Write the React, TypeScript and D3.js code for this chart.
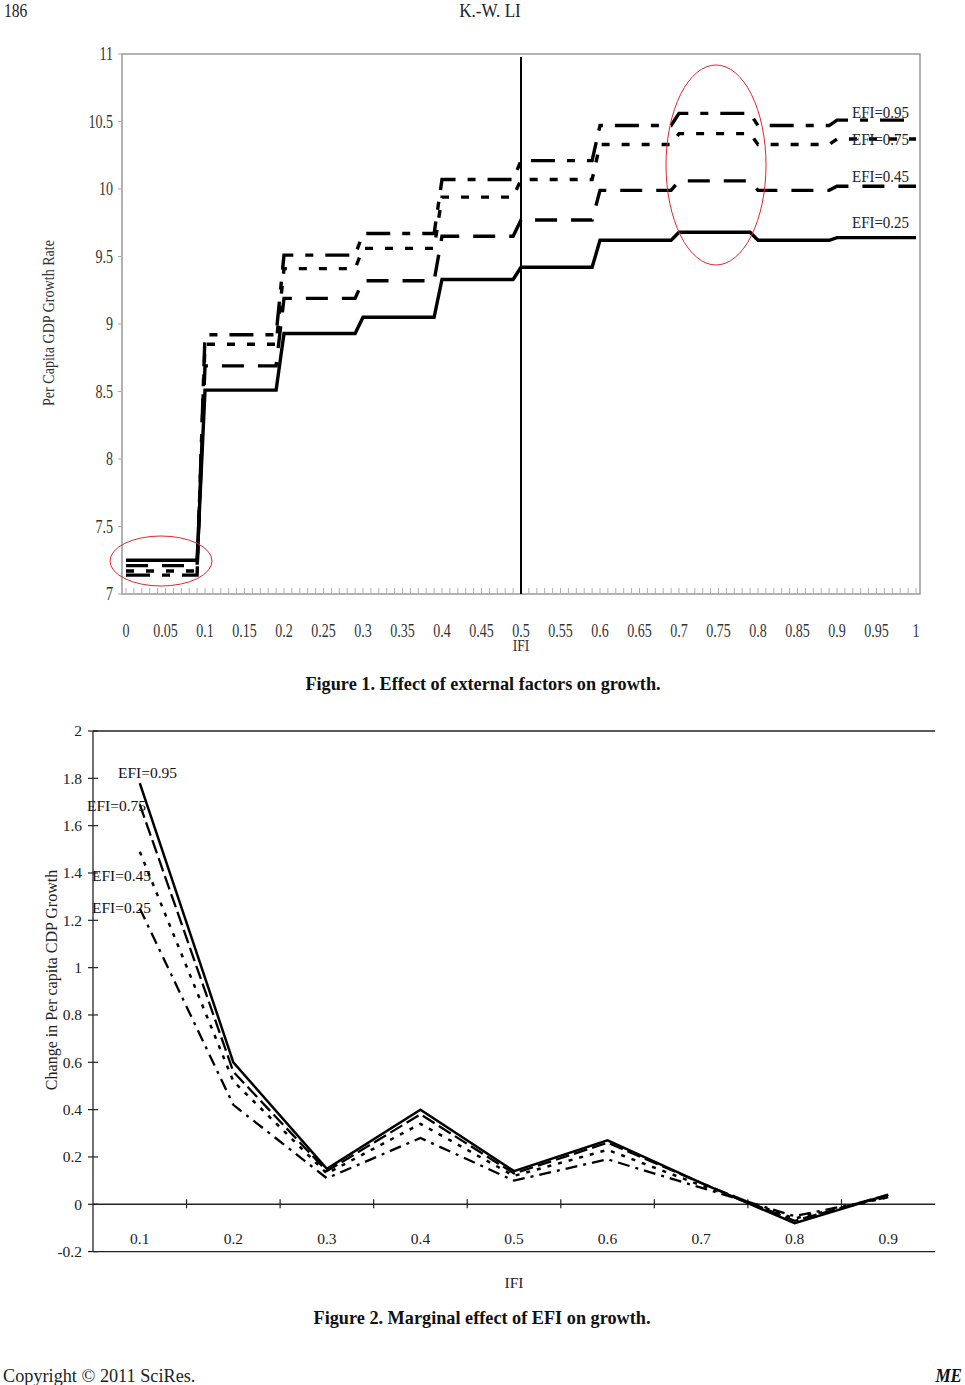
import React from "react";
import * as d3 from "d3";

// ---------- Figure 1 data (step breakpoints) ----------
const ifi1 = [0, 0.09, 0.1, 0.19, 0.2, 0.29, 0.3, 0.39, 0.4, 0.49, 0.5, 0.59, 0.6, 0.69, 0.7, 0.79, 0.8, 0.89, 0.9, 1.0];
const efi25 = [7.25, 7.25, 8.51, 8.51, 8.93, 8.93, 9.05, 9.05, 9.33, 9.33, 9.42, 9.42, 9.62, 9.62, 9.68, 9.68, 9.62, 9.62, 9.64, 9.64];
const efi45 = [7.21, 7.21, 8.69, 8.69, 9.19, 9.19, 9.32, 9.32, 9.65, 9.65, 9.77, 9.77, 9.99, 9.99, 10.06, 10.06, 9.99, 9.99, 10.02, 10.02];
const efi75 = [7.17, 7.17, 8.85, 8.85, 9.41, 9.41, 9.56, 9.56, 9.94, 9.94, 10.07, 10.07, 10.33, 10.33, 10.41, 10.41, 10.33, 10.33, 10.37, 10.37];
const efi95 = [7.14, 7.14, 8.92, 8.92, 9.51, 9.51, 9.67, 9.67, 10.07, 10.07, 10.21, 10.21, 10.47, 10.47, 10.56, 10.56, 10.47, 10.47, 10.51, 10.51];
const fig1YTicks = [7, 7.5, 8, 8.5, 9, 9.5, 10, 10.5, 11];
const fig1XTicks = [0, 0.05, 0.1, 0.15, 0.2, 0.25, 0.3, 0.35, 0.4, 0.45, 0.5, 0.55, 0.6, 0.65, 0.7, 0.75, 0.8, 0.85, 0.9, 0.95, 1];
const fig1Labels = ["EFI=0.95", "EFI=0.75", "EFI=0.45", "EFI=0.25"];

// ---------- Figure 2 data ----------
const ifi2 = ["0.1", "0.2", "0.3", "0.4", "0.5", "0.6", "0.7", "0.8", "0.9"];
const m95 = [1.78, 0.6, 0.15, 0.4, 0.14, 0.27, 0.09, -0.08, 0.04];
const m75 = [1.69, 0.56, 0.14, 0.38, 0.13, 0.26, 0.09, -0.07, 0.04];
const m45 = [1.49, 0.52, 0.13, 0.34, 0.12, 0.23, 0.08, -0.06, 0.03];
const m25 = [1.25, 0.42, 0.11, 0.28, 0.1, 0.19, 0.07, -0.05, 0.03];
const fig2YTicks = [-0.2, 0, 0.2, 0.4, 0.6, 0.8, 1, 1.2, 1.4, 1.6, 1.8, 2];
const fig2Labels = ["EFI=0.95", "EFI=0.75", "EFI=0.45", "EFI=0.25"];

const SERIF = "'Liberation Serif', 'DejaVu Serif', serif";

type CTProps = {
  x: number;
  y: number;
  size: number;
  sx?: number;
  anchor?: "start" | "middle" | "end";
  weight?: string;
  italic?: boolean;
  fill?: string;
  rotate?: number;
  children: React.ReactNode;
};

// Condensed serif text (the source uses a narrow Times face)
function CText({ x, y, size, sx = 1, anchor = "start", weight, italic, fill = "#222", rotate = 0, children }: CTProps) {
  return (
    <text
      transform={`translate(${x},${y}) rotate(${rotate}) scale(${sx},1)`}
      textAnchor={anchor}
      fontFamily={SERIF}
      fontSize={size}
      fontWeight={weight}
      fontStyle={italic ? "italic" : undefined}
      fill={fill}
    >
      {children}
    </text>
  );
}

function Figure1() {
  const x = d3.scaleLinear().domain([0, 1]).range([126, 916]);
  const y = d3.scaleLinear().domain([7, 11]).range([594, 54]);
  const line = d3
    .line<number>()
    .x((_, i) => x(ifi1[i]))
    .y((v) => y(v));
  const series = [
    { v: efi25, dash: "none" },
    { v: efi45, dash: "22,14" },
    { v: efi75, dash: "8,12" },
    { v: efi95, dash: "24,12,8,12" },
  ];
  const minor = d3.range(0, 101).map((k) => k / 100);
  const labelY = [112, 139, 176, 222];
  const fmt = (v: number) => String(v);
  return (
    <g>
      <rect x={122} y={54} width={798} height={540} fill="none" stroke="#8a8a8a" strokeWidth={1.3} />
      {fig1YTicks.map((t) => (
        <g key={"y" + t}>
          <line x1={118} x2={122} y1={y(t)} y2={y(t)} stroke="#aaa" strokeWidth={1} />
          <CText x={113} y={y(t) + 6} size={19} sx={0.74} anchor="end" fill="#333">
            {fmt(t)}
          </CText>
        </g>
      ))}
      {minor.map((m) => (
        <line key={"m" + m} x1={x(m)} x2={x(m)} y1={588} y2={594} stroke="#b0b0b0" strokeWidth={1} />
      ))}
      {fig1XTicks.map((t) => (
        <CText key={"x" + t} x={x(t)} y={637} size={19} sx={0.74} anchor="middle" fill="#333">
          {fmt(t)}
        </CText>
      ))}
      <CText x={521} y={651} size={16} sx={0.85} anchor="middle" fill="#333">
        IFI
      </CText>
      <CText x={54} y={323} size={16} sx={0.88} anchor="middle" rotate={-90} fill="#333">
        Per Capita GDP Growth Rate
      </CText>
      <line x1={x(0.5)} x2={x(0.5)} y1={57} y2={594} stroke="#000" strokeWidth={2} />
      {series.map((s, i) => (
        <path
          key={"s" + i}
          d={line(s.v) || ""}
          fill="none"
          stroke="#000"
          strokeWidth={3.4}
          strokeDasharray={s.dash}
        />
      ))}
      {fig1Labels.map((l, i) => (
        <CText key={l} x={852} y={labelY[i] + 6} size={17} sx={0.88} fill="#222">
          {l}
        </CText>
      ))}
      <ellipse cx={716} cy={165} rx={50} ry={100} fill="none" stroke="#e0262c" strokeWidth={1} />
      <ellipse cx={161} cy={561} rx={51} ry={25} fill="none" stroke="#e0262c" strokeWidth={1} />
    </g>
  );
}

function Figure2() {
  const x = d3.scalePoint<string>().domain(ifi2).range([93, 935]).padding(0.5);
  const step = x.step();
  const y = d3.scaleLinear().domain([-0.2, 2]).range([1251.6, 731]);
  const line = d3
    .line<number>()
    .x((_, i) => x(ifi2[i]) as number)
    .y((v) => y(v));
  const series = [
    { v: m95, dash: "none", w: 2.5 },
    { v: m75, dash: "14,5", w: 2.3 },
    { v: m45, dash: "4,7", w: 2.5 },
    { v: m25, dash: "12,6,3,6", w: 2.3 },
  ];
  const bounds = d3.range(1, 9).map((k) => 93 + k * step);
  const labelPos = [
    [118, 773],
    [87, 806],
    [92, 876],
    [92, 908],
  ];
  return (
    <g>
      <line x1={93} x2={935} y1={y(2)} y2={y(2)} stroke="#222" strokeWidth={1.3} />
      <line x1={93} x2={935} y1={y(-0.2)} y2={y(-0.2)} stroke="#222" strokeWidth={1.3} />
      <line x1={93} x2={935} y1={y(0)} y2={y(0)} stroke="#222" strokeWidth={1.3} />
      <line x1={93} x2={93} y1={y(2)} y2={y(-0.2)} stroke="#222" strokeWidth={1.3} />
      {fig2YTicks.map((t) => (
        <g key={"y" + t}>
          <line x1={88} x2={98} y1={y(t)} y2={y(t)} stroke="#222" strokeWidth={1.2} />
          <text x={82} y={y(t)} dy="0.35em" textAnchor="end" fontFamily={SERIF} fontSize={15.5} fill="#222">
            {String(t)}
          </text>
        </g>
      ))}
      {bounds.map((b) => (
        <line key={"b" + b} x1={b} x2={b} y1={y(0) - 5} y2={y(0) + 4} stroke="#222" strokeWidth={1.2} />
      ))}
      {ifi2.map((c) => (
        <text key={c} x={x(c) as number} y={1244} textAnchor="middle" fontFamily={SERIF} fontSize={15.5} fill="#222">
          {c}
        </text>
      ))}
      <text x={514} y={1288} textAnchor="middle" fontFamily={SERIF} fontSize={15.5} fill="#222">
        IFI
      </text>
      <text
        transform="translate(57,980) rotate(-90)"
        textAnchor="middle"
        fontFamily={SERIF}
        fontSize={16}
        fill="#222"
      >
        Change in Per capita CDP Growth
      </text>
      {series.map((s, i) => (
        <path
          key={"s" + i}
          d={line(s.v) || ""}
          fill="none"
          stroke="#000"
          strokeWidth={s.w}
          strokeDasharray={s.dash}
        />
      ))}
      {fig2Labels.map((l, i) => (
        <text
          key={l}
          x={labelPos[i][0]}
          y={labelPos[i][1]}
          dy="0.35em"
          fontFamily={SERIF}
          fontSize={15.5}
          fill="#111"
        >
          {l}
        </text>
      ))}
    </g>
  );
}

export default function App() {
  return (
    <svg
      width={965}
      height={1385}
      viewBox="0 0 965 1385"
      style={{ position: "absolute", left: 0, top: 0, background: "#fff" }}
    >
      <rect width={965} height={1385} fill="#fff" />
      <CText x={4} y={17} size={19} sx={0.82}>186</CText>
      <CText x={490} y={17} size={19} sx={0.9} anchor="middle">K.-W. LI</CText>
      <Figure1 />
      <CText x={483} y={690} size={19} sx={0.96} anchor="middle" weight="bold" fill="#111">
        Figure 1. Effect of external factors on growth.
      </CText>
      <Figure2 />
      <CText x={482} y={1324} size={19} sx={0.96} anchor="middle" weight="bold" fill="#111">
        Figure 2. Marginal effect of EFI on growth.
      </CText>
      <CText x={3} y={1382} size={19} sx={0.96}>Copyright © 2011 SciRes.</CText>
      <CText x={962} y={1382} size={19} sx={0.9} anchor="end" weight="bold" italic fill="#111">ME</CText>
    </svg>
  );
}
